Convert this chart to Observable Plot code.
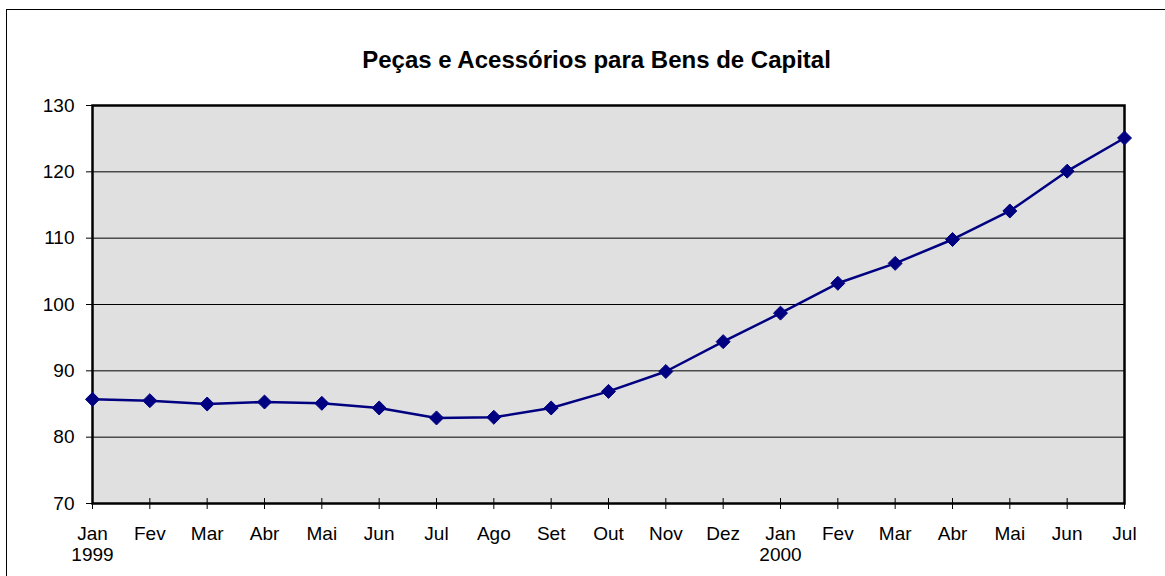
<!DOCTYPE html>
<html>
<head>
<meta charset="utf-8">
<script src="https://cdn.jsdelivr.net/npm/d3@7"></script>
<script src="https://cdn.jsdelivr.net/npm/@observablehq/plot@0.6"></script>
<style>
  html, body { margin: 0; padding: 0; background: #fff; overflow: hidden; }
  #wrap { position: relative; width: 1165px; height: 576px; }
  #border { position: absolute; left: 6px; top: 9px; width: 1200px; height: 600px; border: 1px solid #000; pointer-events: none; }
  svg { display: block; }
</style>
</head>
<body>
<div id="wrap"><div id="chart"></div><div id="border"></div></div>
<script>
const title = "Peças e Acessórios para Bens de Capital";
const months = ["Jan","Fev","Mar","Abr","Mai","Jun","Jul","Ago","Set","Out","Nov","Dez","Jan","Fev","Mar","Abr","Mai","Jun","Jul"];
const years = {0: "1999", 12: "2000"};
const values = [85.7, 85.5, 85.0, 85.3, 85.1, 84.4, 82.9, 83.0, 84.4, 86.9, 89.9, 94.4, 98.7, 103.2, 106.2, 109.8, 114.1, 120.1, 125.1];
const yTicks = [70, 80, 90, 100, 110, 120, 130];
const gridValues = [80, 90, 100, 110, 120];

const data = values.map((v, i) => ({i, v}));
const idx = months.map((_, i) => i);

const chart = Plot.plot({
  width: 1165,
  height: 576,
  marginLeft: 92,
  marginRight: 41,
  marginTop: 105,
  marginBottom: 73,
  style: {fontFamily: "'Liberation Sans', Arial, sans-serif", fontSize: "19px", color: "#000", background: "#fff"},
  x: {domain: [0, months.length - 1], axis: null},
  y: {domain: [70, 130], axis: null},
  marks: [
    Plot.frame({fill: "#e0e0e0", stroke: null}),
    Plot.ruleY(gridValues, {stroke: "#000", strokeWidth: 1}),
    Plot.axisY({ticks: yTicks, label: null, tickSize: 6, tickPadding: 12, fontSize: 19, tickFormat: d => d, stroke: "#000"}),
    Plot.axisX({ticks: idx, label: null, tickSize: 11, dy: -5, tickPadding: 15, fontSize: 19, lineHeight: 1.12,
      tickFormat: i => years[i] ? months[i] + "\n" + years[i] : months[i], stroke: "#000"}),
    Plot.frame({stroke: "#000", strokeWidth: 2.5}),
    Plot.line(data, {x: "i", y: "v", stroke: "#000080", strokeWidth: 2.5}),
    Plot.dot(data, {x: "i", y: "v", symbol: "diamond2", r: 6.3, fill: "#000080", stroke: "#000080", strokeWidth: 1}),
    Plot.text([title], {frameAnchor: "top", lineAnchor: "middle", dx: -12, dy: -45, text: d => d, fontSize: 24, fontWeight: "bold", fill: "#000"})
  ]
});
document.getElementById("chart").appendChild(chart);
</script>
</body>
</html>
